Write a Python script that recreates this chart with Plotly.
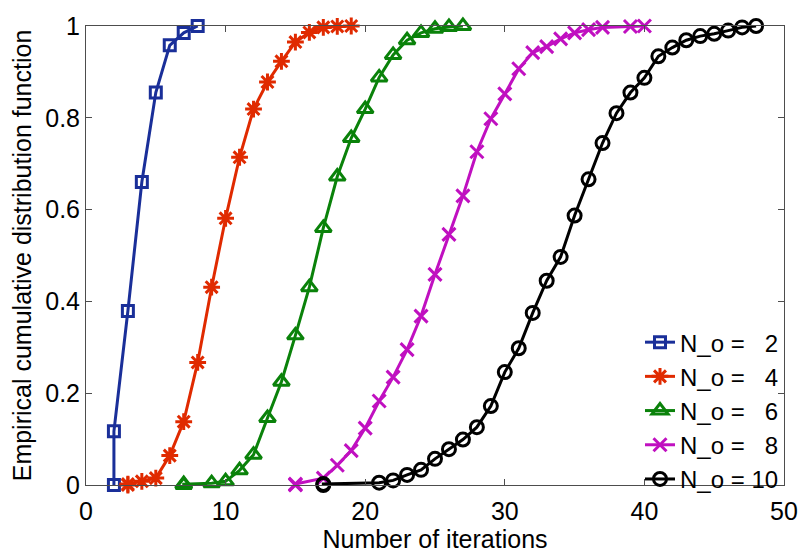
import plotly.graph_objects as go

# Empirical CDF of iteration counts for different N_o values
blue_x = [2, 2, 3, 4, 5, 6, 7, 8]
blue_y = [0, 0.117, 0.379, 0.660, 0.855, 0.958, 0.985, 1.0]

red_x = [3, 3, 4, 5, 6, 7, 8, 9, 10, 11, 12, 13, 14, 15, 16, 17, 18, 19]
red_y = [0, 0.002, 0.008, 0.015, 0.064, 0.138, 0.267, 0.431, 0.581, 0.714,
         0.819, 0.878, 0.923, 0.965, 0.986, 0.997, 0.999, 1.0]

green_x = [7, 7, 9, 10, 11, 12, 13, 14, 15, 16, 17, 18, 19, 20, 21, 22, 23,
           24, 25, 26, 27]
green_y = [0, 0.002, 0.004, 0.008, 0.032, 0.066, 0.146, 0.225, 0.326, 0.431,
           0.560, 0.672, 0.756, 0.819, 0.888, 0.937, 0.969, 0.985, 0.994,
           0.998, 1.0]

magenta_x = [15, 15, 17, 18, 19, 20, 21, 22, 23, 24, 25, 26, 27, 28, 29, 30,
             31, 32, 33, 34, 35, 36, 37, 39, 40]
magenta_y = [0, 0.002, 0.015, 0.043, 0.075, 0.124, 0.183, 0.235, 0.295, 0.368,
             0.459, 0.546, 0.630, 0.726, 0.798, 0.852, 0.907, 0.942, 0.955,
             0.972, 0.985, 0.992, 0.997, 0.999, 1.0]

black_x = [17, 17, 21, 22, 23, 24, 25, 26, 27, 28, 29, 30, 31, 32, 33, 34, 35,
           36, 37, 38, 39, 40, 41, 42, 43, 44, 45, 46, 47, 48]
black_y = [0, 0.002, 0.005, 0.010, 0.022, 0.033, 0.057, 0.078, 0.099, 0.126,
           0.172, 0.246, 0.298, 0.375, 0.445, 0.497, 0.587, 0.666, 0.745,
           0.810, 0.855, 0.887, 0.934, 0.953, 0.969, 0.978, 0.983, 0.990,
           0.997, 1.0]

NBSP = "\u00a0"
labels = ["N_o =" + NBSP * 3 + "2", "N_o =" + NBSP * 3 + "4",
          "N_o =" + NBSP * 3 + "6", "N_o =" + NBSP * 3 + "8",
          "N_o =" + NBSP + "10"]

series = [
    (blue_x, blue_y, "#1a2f99", "square-open", 11),
    (red_x, red_y, "#e02a00", "asterisk-open", 14),
    (green_x, green_y, "#0a820a", "triangle-up-open", 14),
    (magenta_x, magenta_y, "#c010c0", "x-thin-open", 13),
    (black_x, black_y, "#000000", "circle-open", 13),
]

fig = go.Figure()
for (xs, ys, color, symbol, size), name in zip(series, labels):
    fig.add_trace(go.Scatter(
        x=xs, y=ys, name=name, mode="lines+markers",
        line=dict(color=color, width=3),
        marker=dict(symbol=symbol, size=size, color=color,
                    line=dict(color=color, width=3)),
        cliponaxis=False,
    ))

axis_common = dict(
    showline=True, linecolor="#4d4d4d", linewidth=1, mirror="ticks",
    ticks="inside", ticklen=6, tickcolor="#4d4d4d", showgrid=False,
    zeroline=False, tickfont=dict(size=25, color="black"),
)

fig.update_layout(
    width=810, height=555,
    margin=dict(l=86, r=15, t=17, b=61),
    paper_bgcolor="white", plot_bgcolor="white",
    font=dict(family="Liberation Sans, Arial, sans-serif", size=25, color="black"),
    xaxis=dict(range=[0, 50], tickvals=[0, 10, 20, 30, 40, 50],
               ticklabelstandoff=4,
               title=dict(text="Number of iterations", font=dict(size=25), standoff=0),
               **axis_common),
    yaxis=dict(range=[0, 1], tickvals=[0, 0.2, 0.4, 0.6, 0.8, 1],
               ticktext=["0", "0.2", "0.4", "0.6", "0.8", "1"],
               title=dict(text="Empirical cumulative distribution function",
                          font=dict(size=25), standoff=6),
               **axis_common),
    legend=dict(x=1, y=-0.035, xanchor="right", yanchor="bottom",
                bgcolor="rgba(0,0,0,0)", borderwidth=0, font=dict(size=24),
                tracegroupgap=0),
    showlegend=True,
)

fig.write_html("out.html")
